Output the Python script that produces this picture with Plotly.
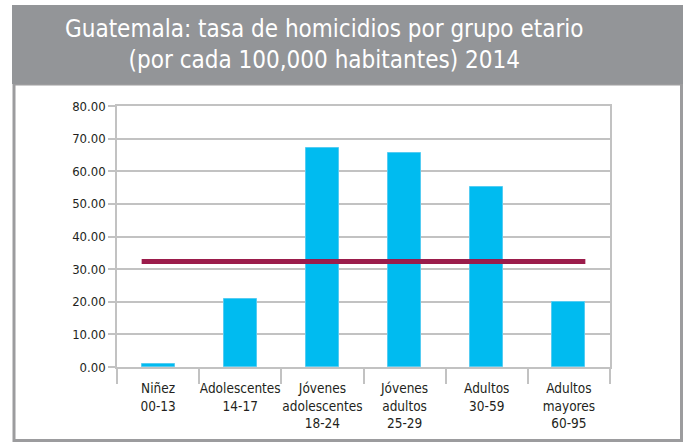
import plotly.graph_objects as go

# ---- data ----
categories = ["Niñez<br>00-13", "Adolescentes<br>14-17", "Jóvenes<br>adolescentes<br>18-24",
              "Jóvenes<br>adultos<br>25-29", "Adultos<br>30-59", "Adultos<br>mayores<br>60-95"]
rates = [0.8, 20.7, 67.2, 65.6, 55.3, 19.9]
average_rate = 32.3
y_ticks = [0, 10, 20, 30, 40, 50, 60, 70, 80]
y_tick_labels = [f"{v:.2f}" for v in y_ticks]
title_lines = ["Guatemala: tasa de homicidios por grupo etario",
               "(por cada 100,000 habitantes) 2014"]

BAR_WIDTH = 0.4
W, H = 685, 444
ML, MR, MT, MB = 117, 75, 106, 77
PW, PH = W - ML - MR, H - MT - MB

def px_x(p):  # pixel -> paper x
    return (p - ML) / PW

def px_y(p):  # pixel -> paper y
    return (H - MB - p) / PH

idx = list(range(len(categories)))
GRID = "#C2C2C2"
FONT = "DejaVu Sans Condensed"

fig = go.Figure()
fig.add_trace(go.Bar(x=idx, y=rates, width=BAR_WIDTH,
                     marker=dict(color="#00BBF0", line=dict(color="#55CCF2", width=1)),
                     hoverinfo="y"))
fig.add_trace(go.Scatter(x=[idx[0] - BAR_WIDTH / 2, idx[-1] + BAR_WIDTH / 2],
                         y=[average_rate, average_rate], mode="lines",
                         line=dict(color="#9B1C4B", width=5), hoverinfo="y"))
fig.add_trace(go.Scatter(x=[idx[0]], y=[0], xaxis="x2", mode="markers",
                         marker=dict(opacity=0), hoverinfo="skip"))

fig.update_layout(
    width=W, height=H, margin=dict(l=ML, r=MR, t=MT, b=MB, autoexpand=False),
    paper_bgcolor="white", plot_bgcolor="white", showlegend=False, bargap=0,
    font=dict(family=FONT, size=13, color="#231F20"),
    xaxis=dict(range=[-0.5, len(categories) - 0.5], tickmode="array", tickvals=idx,
               ticktext=categories, ticks="", showgrid=False, zeroline=False,
               showline=True, linecolor=GRID, linewidth=1.5, mirror=True,
               tickangle=0, automargin=False, ticklabelstandoff=8,
               tickfont=dict(size=13.5)),
    xaxis2=dict(overlaying="x", anchor="y", side="bottom",
                range=[-0.5, len(categories) - 0.5], tickmode="array",
                tickvals=[i - 0.5 for i in range(len(categories) + 1)],
                showticklabels=False, ticks="outside", ticklen=16, tickwidth=1.5,
                tickcolor=GRID, showgrid=False, zeroline=False, showline=False,
                automargin=False),
    yaxis=dict(range=[0, 80], tickmode="array", tickvals=y_ticks, ticktext=y_tick_labels,
               ticks="outside", ticklen=7, tickwidth=1.5, tickcolor=GRID,
               showgrid=True, gridcolor=GRID, gridwidth=1.5, zeroline=False,
               showline=True, linecolor=GRID, linewidth=1.5, mirror=True,
               automargin=False, tickfont=dict(size=13)),
)

fig.add_shape(type="rect", xref="paper", yref="paper",
              x0=px_x(14), x1=px_x(681.5), y0=px_y(440.5), y1=px_y(84),
              line=dict(color="#9C9C9E", width=3), fillcolor="rgba(0,0,0,0)", layer="below")
fig.add_shape(type="rect", xref="paper", yref="paper",
              x0=px_x(12), x1=px_x(683), y0=px_y(84), y1=px_y(5),
              line=dict(width=0), fillcolor="#939598", layer="below")
fig.add_annotation(xref="paper", yref="paper", x=px_x(324), y=px_y(44.5),
                   text="<br>".join(title_lines), showarrow=False,
                   font=dict(family=FONT, size=24, color="white"),
                   xanchor="center", yanchor="middle", align="center")

fig.write_html("out.html", config={"displayModeBar": False},
               post_script="document.body.style.margin='0';")
